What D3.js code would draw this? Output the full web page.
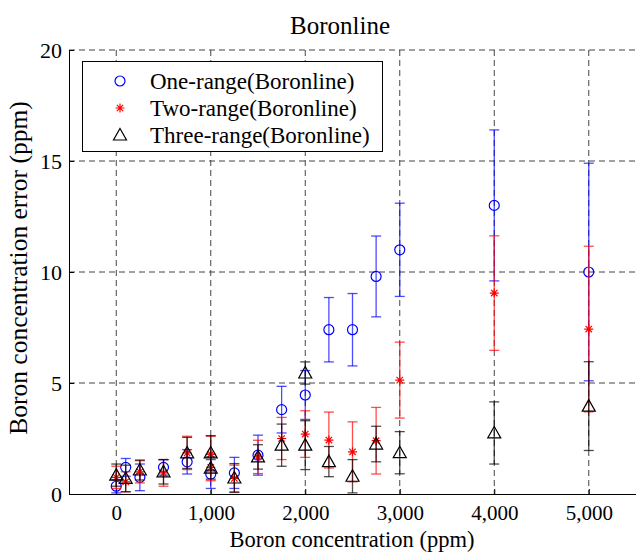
<!DOCTYPE html>
<html>
<head>
<meta charset="utf-8">
<script src="https://cdn.jsdelivr.net/npm/d3@7"></script>
<style>
  body { margin: 0; background: #fff; }
  svg { display: block; }
  svg text { font-family: "Liberation Serif", "Times New Roman", Times, "DejaVu Serif", serif; }
</style>
</head>
<body>
<div id="chart"></div>
<script>
// boron concentrations (ppm), some repeated where two runs were measured
const conc = [0, 100, 250, 500, 750, 1000, 1000, 1250, 1500, 1750, 2000, 2000, 2250, 2500, 2750, 3000, 4000, 5000];

const oneMean = [0.35, 1.2, 0.75, 1.2, 1.45, 0.9, null, 0.95, 1.75, 3.8, 4.46, null, 7.4, 7.4, 9.8, 11.0, 13.0, 10.0];
const oneErr  = [0.3, 0.4, 0.6, 0.35, 0.55, 0.65, null, 0.7, 0.9, 1.05, 1.1, null, 1.45, 1.63, 1.82, 2.1, 3.4, 4.9];

const twoMean = [0.75, 0.55, 1.0, 0.95, 1.85, 1.8, 1.2, 0.7, 1.67, 2.5, 2.7, null, 2.43, 1.9, 2.4, 5.13, 9.05, 7.43];
const twoErr  = [0.5, 0.45, 0.5, 0.6, 0.75, 0.8, 0.6, 0.6, 0.75, 0.95, 1.05, null, 1.26, 1.35, 1.5, 1.71, 2.58, 3.73];

const threeMean = [0.85, 0.7, 1.08, 1.0, 1.85, 1.85, 1.17, 0.72, 1.67, 2.2, 5.45, 2.2, 1.46, 0.8, 2.25, 1.86, 2.75, 3.96];
const threeErr  = [0.5, 0.6, 0.45, 0.55, 0.7, 0.78, 0.5, 0.65, 0.55, 0.95, 0.5, 1.1, 0.68, 0.75, 0.8, 0.95, 1.4, 2.0];

const seriesNames = ["One-range(Boronline)", "Two-range(Boronline)", "Three-range(Boronline)"];
const xTicks = [0, 1000, 2000, 3000, 4000, 5000];
const yTicks = [0, 5, 10, 15, 20];

const w = 636, h = 552;
const plotL = 69, plotR = 636, plotT = 50, plotB = 494;
const serif = "Liberation Serif, Times New Roman, Times, DejaVu Serif, serif";

const svg = d3.select("#chart").append("svg")
    .attr("width", w)
    .attr("height", h);

const x = d3.scaleLinear().domain([-500, 5500]).range([plotL, plotR]);
const y = d3.scaleLinear().domain([0, 20]).range([plotB, plotT]);

// dashed grid
svg.append("g").selectAll("line")
    .data(xTicks)
    .join("line")
    .attr("x1", d => x(d)).attr("x2", d => x(d))
    .attr("y1", plotT).attr("y2", plotB)
    .attr("stroke", "#444")
    .attr("stroke-dasharray", "6,4");

svg.append("g").selectAll("line")
    .data(yTicks.filter(d => d > 0))
    .join("line")
    .attr("x1", plotL).attr("x2", plotR)
    .attr("y1", d => y(d)).attr("y2", d => y(d))
    .attr("stroke", "#444")
    .attr("stroke-dasharray", "6,4");

// axes with inside ticks
const xAxis = d3.axisBottom(x).tickValues(xTicks).tickFormat(d3.format(","))
    .tickSizeInner(-5).tickSizeOuter(0).tickPadding(11);
const yAxis = d3.axisLeft(y).tickValues(yTicks)
    .tickSizeInner(-5).tickSizeOuter(0).tickPadding(7);

const gx = svg.append("g").attr("transform", "translate(0," + plotB + ")").call(xAxis);
const gy = svg.append("g").attr("transform", "translate(" + plotL + ",0)").call(yAxis);
[gx, gy].forEach(g => {
  g.attr("font-family", serif);
  g.selectAll("text").attr("font-size", 22).attr("fill", "#000");
  g.selectAll("line, path").attr("stroke", "#000");
});
gx.selectAll("text").attr("font-size", 21);
gy.selectAll("text").attr("dy", "0.34em");

// markers
const circlePath = "M5,0A5,5 0 1,1 -5,0A5,5 0 1,1 5,0Z";
const starPath = "M-4.5,0H4.5M0,-4.5V4.5M-3.2,-3.2L3.2,3.2M-3.2,3.2L3.2,-3.2";
const triPath = "M0,-6.5L6.5,5L-6.5,5Z";

const series = [
  {mean: oneMean, err: oneErr, color: "#0000ff", marker: circlePath},
  {mean: twoMean, err: twoErr, color: "#ff0000", marker: starPath},
  {mean: threeMean, err: threeErr, color: "#000000", marker: triPath}
];

const capW = 5;
series.forEach(s => {
  const pts = conc.map((c, i) => ({c: c, m: s.mean[i], e: s.err[i]}))
      .filter(d => d.m !== null);
  const g = svg.append("g");

  const bars = g.append("g").attr("stroke", s.color).attr("stroke-opacity", 0.7)
      .attr("stroke-width", 1.3);
  bars.selectAll(".stem").data(pts).join("line")
      .attr("x1", d => x(d.c)).attr("x2", d => x(d.c))
      .attr("y1", d => y(d.m + d.e)).attr("y2", d => y(Math.max(0, d.m - d.e)));
  bars.selectAll(".capTop").data(pts).join("line")
      .attr("x1", d => x(d.c) - capW).attr("x2", d => x(d.c) + capW)
      .attr("y1", d => y(d.m + d.e)).attr("y2", d => y(d.m + d.e));
  bars.selectAll(".capBot").data(pts.filter(d => d.m - d.e >= 0)).join("line")
      .attr("x1", d => x(d.c) - capW).attr("x2", d => x(d.c) + capW)
      .attr("y1", d => y(d.m - d.e)).attr("y2", d => y(d.m - d.e));

  g.selectAll(".mk").data(pts).join("path")
      .attr("d", s.marker)
      .attr("transform", d => "translate(" + x(d.c) + "," + y(d.m) + ")")
      .attr("fill", "none")
      .attr("stroke", s.color)
      .attr("stroke-width", 1.2);
});

// legend
const legend = svg.append("g").attr("font-family", serif);
legend.append("rect")
    .attr("x", 82.5).attr("y", 61.5)
    .attr("width", 300).attr("height", 90)
    .attr("fill", "#fff").attr("stroke", "#000");

series.forEach((s, i) => {
  const ly = 81 + i * 27;
  legend.append("path")
      .attr("d", s.marker)
      .attr("transform", "translate(120," + ly + ")")
      .attr("fill", "none").attr("stroke", s.color).attr("stroke-width", 1.2);
  legend.append("text")
      .attr("x", 150).attr("y", ly + 8)
      .attr("font-size", 23)
      .text(seriesNames[i]);
});

// title and axis labels
svg.append("text")
    .attr("x", 340).attr("y", 34)
    .attr("text-anchor", "middle")
    .attr("font-size", 25)
    .text("Boronline");

svg.append("text")
    .attr("x", 352).attr("y", 547)
    .attr("text-anchor", "middle")
    .attr("font-size", 22.5)
    .text("Boron concentration (ppm)");

svg.append("text")
    .attr("transform", "translate(27,268) rotate(-90)")
    .attr("text-anchor", "middle")
    .attr("font-size", 25.5)
    .text("Boron concentration error (ppm)");
</script>
</body>
</html>
